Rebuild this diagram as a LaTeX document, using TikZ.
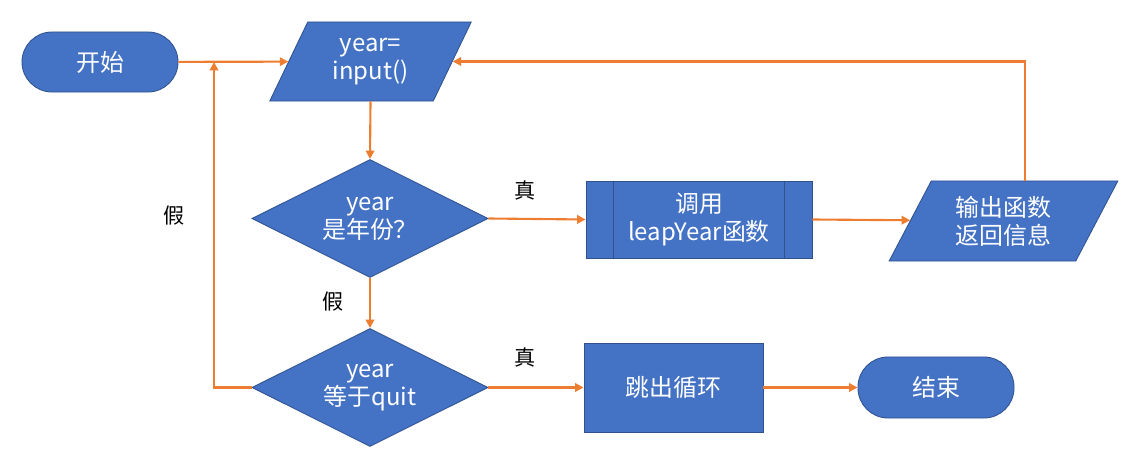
\documentclass[tikz,border=0pt]{standalone}
\usepackage{fontspec}
\setmainfont{Noto Sans CJK SC}
\usetikzlibrary{shapes.geometric,arrows.meta}
\definecolor{boxblue}{HTML}{4472C4}
\definecolor{boxline}{HTML}{2F528F}
\definecolor{flow}{HTML}{ED7D31}
\begin{document}
\begin{tikzpicture}[x=0.025cm,y=-0.025cm,
  block/.style={draw=boxline,line width=0.6pt,fill=boxblue,text=white,
    font=\fontsize{17}{20}\selectfont,align=center,inner sep=0pt},
  terminal/.style={block,rectangle,rounded corners=0.75cm},
  io/.style={block,trapezium,trapezium stretches=true,
    trapezium left angle=#1,trapezium right angle=180-#1},
  decision/.style={block,diamond,aspect=2,minimum width=5.9cm,minimum height=2.95cm},
  flowline/.style={draw=flow,line width=1.5pt,-{Triangle[length=0.21cm,width=0.21cm]}},
  tag/.style={font=\fontsize{15}{17}\selectfont}]
  \useasboundingbox (0,0) rectangle (1145,472);
  % Nodes
  \node[terminal,minimum width=3.9cm,minimum height=1.5cm] (start) at (100,62) {开始};
  \node[io=64,minimum width=5.075cm,minimum height=1.975cm] (input) at (370.5,61.5) {year=\\input()};
  \node[decision] (isyear) at (370,218.5) {year\\是年份？};
  \node[block,rectangle,minimum width=5.65cm,minimum height=1.925cm] (call) at (699,219.5) {调用\\leapYear函数};
  \draw[boxline,line width=0.6pt] ([xshift=0.7cm]call.north west) -- ([xshift=0.7cm]call.south west);
  \draw[boxline,line width=0.6pt] ([xshift=-0.7cm]call.north east) -- ([xshift=-0.7cm]call.south east);
  \node[io=61,minimum width=5.725cm,minimum height=2cm] (output) at (1003.5,221) {输出函数\\返回信息};
  \node[decision] (isquit) at (370,387.5) {year\\等于quit};
  \node[block,rectangle,minimum width=4.475cm,minimum height=2.225cm] (exit) at (673.5,387.5) {跳出循环};
  \node[terminal,minimum width=3.9cm,minimum height=1.525cm] (end) at (936,387.5) {结束};
  \coordinate (loop) at (214,62);
  % Connectors
  \draw[flowline] (start) -- (input);
  \draw[flowline] (input.south) -- (isyear.north);
  \draw[flowline] (isyear.east) -- (call.west);
  \draw[flowline] (call.east) -- (output);
  \draw[flowline] (output.top side) |- (input.east);
  \draw[flowline] (isyear.south) -- (isquit.north);
  \draw[flowline] (isquit.east) -- (exit.west);
  \draw[flowline] (exit) -- (end);
  \draw[flowline] (isquit.west) -| (loop);
  % Labels
  \node[tag] (yes1) at (525,190) {真};
  \node[tag] (no1) at (333,302) {假};
  \node[tag] (yes2) at (525,357) {真};
  \node[tag] (no2) at (174,216) {假};
\end{tikzpicture}
\end{document}
